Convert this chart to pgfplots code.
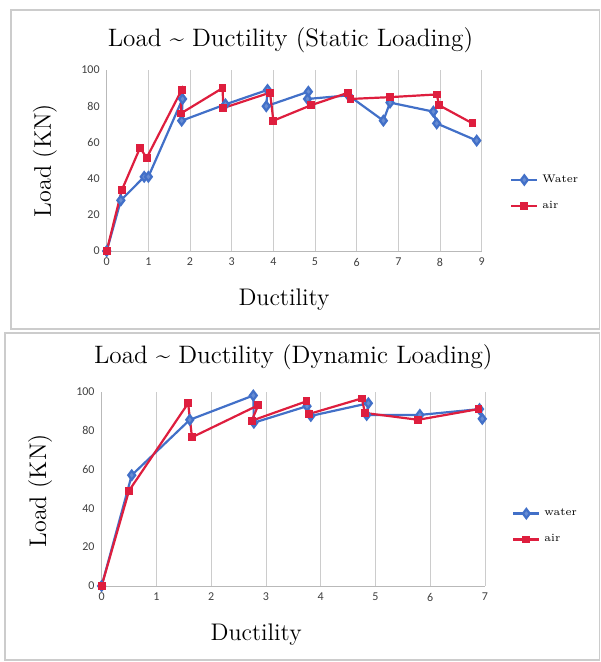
\documentclass[border=0pt]{standalone}
\usepackage{pgfplots}
\pgfplotsset{compat=1.18}
\usepackage{fontspec}
\newfontfamily\carlito{Carlito}
\definecolor{wblue}{RGB}{66,112,200}
\definecolor{ared}{RGB}{222,30,62}
\pgfplotsset{
  mystyle/.style={
    scale only axis,
    anchor=south west,
    every axis title shift=0pt,
    ymin=0, ymax=100, ytick={0,20,...,100},
    xmin=0,
    axis x line*=bottom, axis y line*=left,
    axis line style={draw=gray!55, line width=0.5pt},
    xmajorgrids, grid style={draw=gray!40, line width=0.4pt},
    major tick length=0pt,
    tick label style={font=\carlito\fontsize{6}{7}\selectfont, text=black!75},
    /pgf/number format/assume math mode=true,
    xlabel={Ductility}, ylabel={Load (KN)},
    label style={font=\fontsize{12}{14}\selectfont},
    title style={font=\fontsize{12.6}{14}\selectfont, anchor=center},
    legend style={draw=none, fill=none, font=\fontsize{5.5}{6}\selectfont, anchor=west, row sep=4pt, inner sep=0pt},
    legend cell align=left,
    legend image code/.code={\draw[mark repeat=2,mark phase=2,##1] plot coordinates {(0pt,0pt)(6.5pt,0pt)(13pt,0pt)};},
  },
  wser/.style={color=wblue, line width=1.1pt, mark=diamond*, mark size=2.3pt, mark options={fill=wblue!80}},
  aser/.style={color=ared, line width=1.1pt, mark=square*, mark size=1.4pt, mark options={fill=ared}},
}
\begin{document}
\begin{tikzpicture}
\useasboundingbox (0pt,0pt) rectangle (300pt,-331pt);
\draw[gray!40, line width=0.6pt] (5.5pt,-5pt) rectangle (299.6pt,-164.5pt);
\draw[gray!40, line width=0.6pt] (2.5pt,-166.5pt) rectangle (299.6pt,-330pt);
\begin{axis}[mystyle,
  at={(53.35pt,-125.5pt)}, width=187.5pt, height=90.5pt,
  xmax=9, xtick={0,1,...,9},
  title={Load \textasciitilde{} Ductility (Static Loading)},
  title style={at={(0.49,1.166)}},
  xlabel style={at={(0.473,-0.27)}, anchor=center},
  ylabel style={at={(-0.165,0.5)}, anchor=center},
  legend style={at={(1.075,0.32)}},
]
\addplot[wser] coordinates {(0,0)(0.34,28)(0.9,41)(1.0,41)(1.82,84)(1.8,72)(2.85,81)(3.86,89)(3.83,80)(4.84,88)(4.82,84)(5.8,86)(6.64,72)(6.8,82)(7.84,77)(7.92,70.5)(8.88,61)};
\addlegendentry{Water}
\addplot[aser] coordinates {(0,0)(0.36,33.5)(0.8,57)(0.96,51.5)(1.8,89)(1.78,76)(2.78,90)(2.8,79)(3.92,87.5)(4.0,72)(4.9,80.5)(5.8,87.5)(5.85,84)(6.8,85)(7.92,86.5)(7.98,80.5)(8.78,70.5)};
\addlegendentry{air}
\end{axis}
\begin{axis}[mystyle,
  at={(50.8pt,-293pt)}, width=191.7pt, height=97.2pt,
  xmax=7, xtick={0,1,...,7},
  title={Load \textasciitilde{} Ductility (Dynamic Loading)},
  title style={at={(0.5,1.178)}},
  xlabel style={at={(0.403,-0.252)}, anchor=center},
  ylabel style={at={(-0.16,0.49)}, anchor=center},
  legend style={at={(1.07,0.305)}},
]
\addplot[wser] coordinates {(0,0)(0.55,57)(1.61,85.5)(2.77,98)(2.78,84)(3.75,92.5)(3.82,87.5)(4.87,94)(4.84,88)(5.81,88)(6.9,91)(6.95,86)};
\addlegendentry{water}
\addplot[aser] coordinates {(0,0)(0.5,49)(1.58,94)(1.65,76.5)(2.86,93)(2.74,85)(3.74,95)(3.79,88.5)(4.75,96.5)(4.81,89)(5.78,85.5)(6.88,91)};
\addlegendentry{air}
\end{axis}
\end{tikzpicture}
\end{document}
